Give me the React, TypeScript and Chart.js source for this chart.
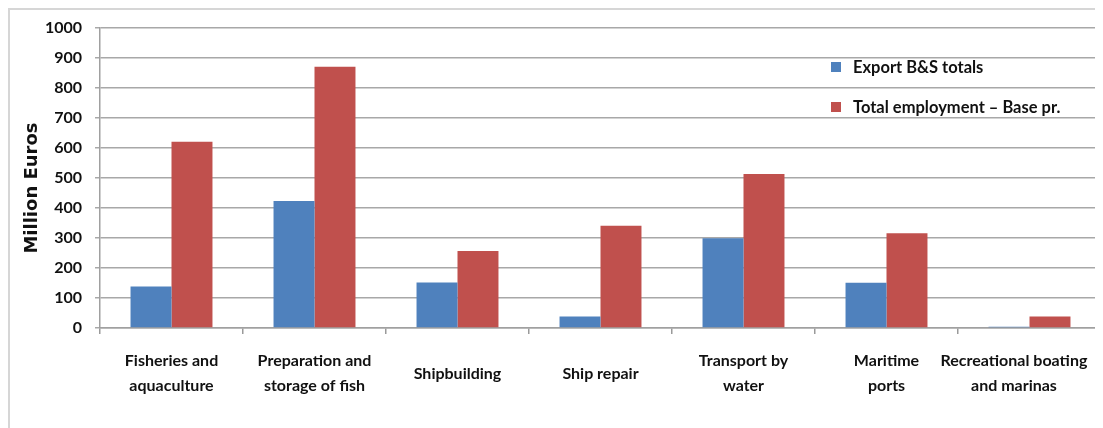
import React, { useEffect, useRef } from "react";
import { Chart, registerables } from "chart.js";

Chart.register(...registerables);

const categories: string[][] = [
  ["Fisheries and", "aquaculture"],
  ["Preparation and", "storage of fish"],
  ["Shipbuilding"],
  ["Ship repair"],
  ["Transport by", "water"],
  ["Maritime", "ports"],
  ["Recreational boating", "and marinas"],
];

const exportTotals: number[] = [138, 423, 152, 38, 299, 151, 4];
const totalEmployment: number[] = [621, 871, 257, 341, 513, 316, 38];

const seriesNames: string[] = ["Export B&S totals", "Total employment – Base pr."];
const yTitle = "Million Euros";

const BLUE = "#4F81BD";
const RED = "#C0504D";
const FONT = "Lato";
const TICK_FONT = `bold 16px ${FONT}`;

let measureCtx: CanvasRenderingContext2D | null = null;
function padLastLabel(lines: string[], shift: number): string[] {
  if (!measureCtx) measureCtx = document.createElement("canvas").getContext("2d");
  if (!measureCtx) return lines;
  measureCtx.font = TICK_FONT;
  const sw = measureCtx.measureText(" ").width || 4;
  const n = Math.max(0, Math.round((shift * 2) / sw));
  const pad = " ".repeat(n);
  return lines.map((l) => l + pad);
}

const insideLegend = {
  id: "insideLegend",
  afterDraw(chart: any) {
    const { ctx, chartArea } = chart;
    const ds = chart.data.datasets;
    ctx.save();
    ctx.font = `bold 16.5px ${FONT}`;
    ctx.textBaseline = "middle";
    ctx.textAlign = "left";
    ds.forEach((d: any, i: number) => {
      const sx = chartArea.left + 731;
      const cy = chartArea.top + 39 + i * 40;
      ctx.fillStyle = d.backgroundColor;
      ctx.fillRect(sx, cy - 5, 10, 10);
      ctx.fillStyle = "#111";
      ctx.fillText(d.label, sx + 22, cy + 1);
    });
    ctx.restore();
  },
};

const yTitlePlugin = {
  id: "yTitle",
  afterDraw(chart: any) {
    const { ctx, chartArea } = chart;
    ctx.save();
    ctx.font = "bold 18px 'DejaVu Sans'";
    ctx.fillStyle = "#111";
    ctx.textAlign = "center";
    ctx.textBaseline = "middle";
    ctx.translate(22, (chartArea.top + chartArea.bottom) / 2 + 10);
    ctx.rotate(-Math.PI / 2);
    ctx.fillText(yTitle, 0, 0);
    ctx.restore();
  },
};

export default function App() {
  const ref = useRef<HTMLCanvasElement | null>(null);

  useEffect(() => {
    document.body.style.overflow = "hidden";
    document.documentElement.style.overflow = "hidden";
    const canvas = ref.current;
    if (!canvas) return;
    const chart = new Chart(canvas, {
      type: "bar",
      data: {
        labels: categories,
        datasets: [
          {
            label: seriesNames[0],
            data: exportTotals,
            backgroundColor: BLUE,
            borderWidth: 0,
            categoryPercentage: 0.573,
            barPercentage: 1.0,
          },
          {
            label: seriesNames[1],
            data: totalEmployment,
            backgroundColor: RED,
            borderWidth: 0,
            categoryPercentage: 0.573,
            barPercentage: 1.0,
          },
        ],
      },
      options: {
        responsive: false,
        animation: false,
        devicePixelRatio: 1,
        layout: { padding: { top: 18, right: 2, left: 0, bottom: 0 } },
        plugins: {
          legend: { display: false },
          tooltip: { enabled: false },
          title: { display: false },
        },
        scales: {
          x: {
            grid: {
              display: true,
              drawOnChartArea: false,
              drawTicks: true,
              tickLength: 6,
              color: "#9a9a9a",
              lineWidth: 1.5,
              offset: true,
            },
            border: { display: true, color: "#a0a0a0", width: 1.5 },
            ticks: {
              autoSkip: false,
              maxRotation: 0,
              minRotation: 0,
              crossAlign: "center",
              padding: 27,
              color: "#111",
              font: { family: FONT, size: 16, weight: "bold", lineHeight: 1.55 },
              callback: (_v: any, index: number) =>
                index === categories.length - 1
                  ? padLastLabel(categories[index], 15)
                  : categories[index],
            },
            afterFit(scale: any) {
              scale.height = 100;
              scale.paddingLeft = 0;
              scale.paddingRight = 0;
            },
          },
          y: {
            min: 0,
            max: 1000,
            ticks: {
              stepSize: 100,
              padding: 13,
              color: "#111",
              font: { family: FONT, size: 16, weight: "bold" },
              callback: (v: any) => String(v),
            },
            grid: {
              color: "#a8a8a8",
              lineWidth: 1.5,
              tickLength: 5,
              drawTicks: true,
            },
            border: { display: true, color: "#a0a0a0", width: 1.5 },
            title: { display: false, text: yTitle },
            afterFit(scale: any) {
              scale.width = 90;
              scale.paddingTop = 0;
              scale.paddingBottom = 0;
            },
          },
        },
      },
      plugins: [insideLegend, yTitlePlugin],
    });
    return () => chart.destroy();
  }, []);

  return (
    <div
      style={{
        width: 1100,
        height: 430,
        border: "2px solid #d6d6d6",
        overflow: "hidden",
        background: "#fff",
      }}
    >
      <canvas
        ref={ref}
        width={1093}
        height={418}
        style={{ display: "block", width: 1093, height: 418 }}
      />
    </div>
  );
}
